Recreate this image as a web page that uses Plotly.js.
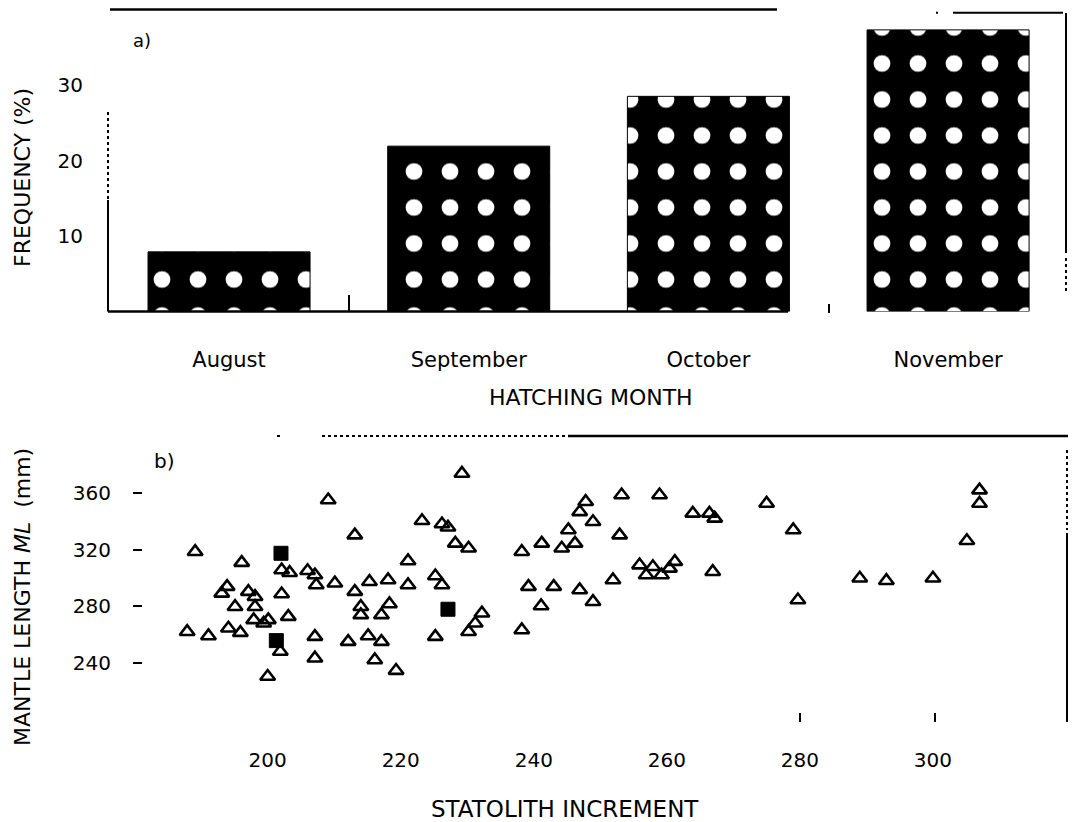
<!DOCTYPE html>
<html>
<head>
<meta charset="utf-8">
<script src="https://cdn.plot.ly/plotly-3.0.1.min.js"></script>
<style>html,body{margin:0;padding:0;background:#fff;}#chart{width:1073px;height:822px;}</style>
</head>
<body>
<div id="chart"></div>
<script>
// ---- Panel a) data ----
var months = ["August", "September", "October", "November"];
var frequency = [7.9, 21.9, 28.5, 37.3];
var freqTicks = [10, 20, 30];

// ---- Panel b) data ----
var triIncrement = [
  229.2, 209.1, 213.1, 223.2, 226.2, 227.1, 228.2, 230.2, 189.1, 196.1,
  202.1, 203.3, 206.0, 207.1, 207.3, 210.1, 213.1, 215.3, 218.1, 221.1,
  221.1, 225.2, 226.2, 193.9, 193.1, 197.1, 198.1, 202.1, 195.1, 198.1,
  214.0, 214.0, 218.3, 217.1, 232.2, 231.2, 230.2, 225.2, 203.1, 200.1,
  197.9, 199.4, 187.9, 191.1, 194.1, 195.9, 201.9, 207.1, 212.1, 215.1,
  217.1, 207.1, 216.1, 219.3, 200.0,
  247.8, 246.9, 248.9, 253.2, 258.9, 263.9, 266.4, 267.2, 275.0, 279.0,
  245.2, 252.9, 241.2, 244.2, 246.2, 238.2, 255.9, 257.9, 256.9, 259.2,
  261.2, 260.4, 266.9, 251.9, 239.2, 243.0, 246.9, 248.9, 241.1, 238.2,
  279.7,
  289.0, 293.0, 300.0, 305.1, 307.0, 307.0
];
var triMantle = [
  373.6, 354.9, 330.2, 340.3, 338.0, 335.7, 324.4, 320.9, 318.5, 310.8,
  305.6, 303.7, 305.1, 302.1, 295.1, 296.3, 290.4, 297.4, 298.6, 312.0,
  295.1, 301.4, 295.1, 293.9, 289.2, 290.4, 286.8, 288.7, 279.8, 279.8,
  279.8, 274.0, 281.7, 274.0, 275.2, 268.1, 262.2, 258.7, 272.8, 270.5,
  270.5, 268.1, 262.2, 259.2, 264.6, 261.5, 248.2, 258.7, 255.2, 259.2,
  255.2, 243.5, 242.3, 234.8, 230.6,
  353.7, 346.6, 339.6, 358.4, 358.4, 345.5, 345.5, 342.0, 352.5, 333.8,
  333.8, 330.2, 324.4, 320.9, 324.4, 318.5, 309.1, 307.9, 302.1, 302.1,
  311.5, 306.8, 304.4, 298.6, 293.9, 293.9, 291.6, 283.3, 280.3, 263.4,
  284.5,
  299.8, 298.1, 299.8, 326.2, 361.9, 352.5
];
var sqIncrement = [202.0, 227.1, 201.3];
var sqMantle = [317.4, 278.0, 255.9];
var incTicks = [200, 220, 240, 260, 280, 300];
var mlTicks = [240, 280, 320, 360];

// ---- helpers (figure px -> paper) ----
var W = 1073, H = 822;
function px(x) { return x / W; }
function py(y) { return 1 - y / H; }
var FONT = "DejaVu Sans";

function hline(x0, x1, y, w, dash) {
  return {type: "line", xref: "paper", yref: "paper", x0: px(x0), x1: px(x1), y0: py(y), y1: py(y),
          line: {color: "black", width: w, dash: dash || "solid"}};
}
function vline(x, y0, y1, w, dash) {
  return {type: "line", xref: "paper", yref: "paper", x0: px(x), x1: px(x), y0: py(y0), y1: py(y1),
          line: {color: "black", width: w, dash: dash || "solid"}};
}
function label(text, x, y, size, angle) {
  return {text: text, xref: "paper", yref: "paper", x: px(x), y: py(y), xanchor: "center", yanchor: "middle",
          textangle: angle || 0, showarrow: false, font: {family: FONT, size: size, color: "black"}};
}

var traces = [
  {
    type: "bar", x: months, y: frequency, xaxis: "x", yaxis: "y", width: 0.676,
    marker: {color: "black", line: {color: "black", width: 1},
             pattern: {shape: ".", fillmode: "replace", bgcolor: "black", fgcolor: "white", size: 36, solidity: 0.17}},
    hoverinfo: "skip"
  },
  {
    type: "scatter", mode: "markers", x: triIncrement, y: triMantle, xaxis: "x2", yaxis: "y2",
    marker: {symbol: "triangle-up-open", size: 13, color: "black", line: {color: "black", width: 2.6}}
  },
  {
    type: "scatter", mode: "markers", x: sqIncrement, y: sqMantle, xaxis: "x2", yaxis: "y2",
    marker: {symbol: "square", size: 14, color: "black", line: {color: "black", width: 1}}
  }
];

var tickFont = {family: FONT, size: 20, color: "black"};
var dom = [px(108), px(1066)];

var layout = {
  width: W, height: H,
  margin: {l: 0, r: 0, t: 0, b: 0},
  paper_bgcolor: "white", plot_bgcolor: "white",
  showlegend: false,
  xaxis: {domain: dom, anchor: "y", range: [-0.505, 3.492], showgrid: false, zeroline: false, showline: false,
          ticks: "", tickfont: {family: FONT, size: 21, color: "black"}, ticklabelstandoff: 33, fixedrange: true},
  yaxis: {domain: [py(311.5), py(9.5)], anchor: "x", range: [0, 40], tickvals: freqTicks, showgrid: false,
          zeroline: false, showline: false, ticks: "", tickfont: tickFont, ticklabelstandoff: 24, fixedrange: true},
  xaxis2: {domain: dom, anchor: "y2", range: [176, 320], tickvals: incTicks, showgrid: false, zeroline: false,
           showline: false, ticks: "", tickfont: tickFont, ticklabelstandoff: 26, fixedrange: true},
  yaxis2: {domain: [py(720), py(436)], anchor: "free", position: px(142), range: [200, 400], tickvals: mlTicks,
           showgrid: false, zeroline: false, showline: false, ticks: "outside", ticklen: 9, tickwidth: 2,
           tickcolor: "black", tickfont: tickFont, ticklabelstandoff: 18, fixedrange: true},
  annotations: [
    label("a)", 142, 40, 18),
    label("b)", 164, 461, 20),
    label("FREQUENCY (%)", 22, 178, 22, -90),
    label("MANTLE LENGTH <i>ML</i>  (mm)", 22, 597, 22, -90),
    label("HATCHING MONTH", 591, 398, 22),
    label("STATOLITH INCREMENT", 565, 809, 23)
  ],
  shapes: [
    // panel a frame
    hline(110, 777, 9.5, 2.5),
    hline(953, 1063, 12.7, 2),
    hline(936, 938, 12.7, 2),
    vline(1066, 13, 253, 2),
    vline(1066, 258, 293, 2, "dot"),
    hline(108, 788, 311.5, 2.5),
    vline(349, 295, 311, 2),
    vline(829, 304, 313, 2),
    vline(108, 200, 311.5, 2),
    vline(108, 112, 200, 2, "dot"),
    // panel b frame
    hline(568, 1068, 436, 2.5),
    hline(322, 565, 436, 2, "dot"),
    hline(277, 280, 436, 2),
    vline(1067, 533, 722, 2),
    vline(1067, 450, 530, 2, "dot"),
    vline(800, 713, 722, 2),
    vline(935, 713, 722, 2)
  ]
};

Plotly.newPlot("chart", traces, layout, {displayModeBar: false, staticPlot: true});
</script>
</body>
</html>
